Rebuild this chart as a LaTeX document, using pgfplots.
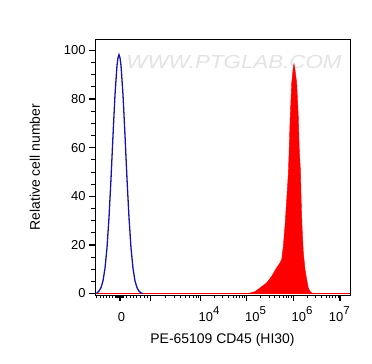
\documentclass[border=0pt]{standalone}
\usepackage{pgfplots}
\pgfplotsset{compat=1.18}
\usepackage{fontspec}
\setmainfont{Liberation Sans}
\definecolor{cblue}{RGB}{20,20,170}
\newcommand\ep[1]{10\raisebox{0.55em}{\fontsize{11.5}{11.5}\selectfont #1}}
\begin{document}
\begin{tikzpicture}
\path[use as bounding box] (-95bp,-69bp) rectangle (277bp,295bp);
\begin{axis}[
  at={(0,0)}, anchor=south west,
  scale only axis, width=255bp, height=255.7bp,
  xmin=-25, xmax=230, ymin=-0.6, ymax=104.5,
  axis line style={line width=0.8bp},
  tick pos=left, tick align=outside,
  xtick={0,30.7,80.7,126.7,173.3,220},
  xticklabels={,,,,,},
  minor xtick={-24,-20,-16.7,-13.3,-10.5,-7.5,-5,-4,-3,-2,-1,1,2,3,6.7,10,13.3,16.7,20,24,27.5,
    45.75,54.56,60.8,65.6,69.6,72.95,75.85,78.4,
    94.55,102.65,108.4,112.85,116.5,119.6,122.2,124.6,
    140.73,148.93,154.75,159.27,162.96,166.08,168.78,171.17,
    187.36,195.58,201.4,205.94,209.64,212.77,215.47,217.86},
  ytick={0,20,40,60,80,100},
  minor ytick={5,10,15,25,30,35,45,50,55,65,70,75,85,90,95},
  major tick length=6bp, minor tick length=3.5bp,
  every major tick/.style={black, line width=1.3bp},
  every minor tick/.style={black, line width=0.7bp},
  extra x ticks={1.5,89,135.5,182,219.3},
  extra x tick labels={{\vphantom{\ep{7}}0},\ep{4},\ep{5},\ep{6},\ep{7}},
  extra x tick style={major tick length=0pt, xticklabel style={yshift=-8bp}},
  /pgf/number format/assume math mode=true,
  ticklabel style={font=\fontsize{13}{13}\selectfont},
  xlabel={PE-65109 CD45 (HI30)},
  ylabel={Relative cell number},
  every axis x label/.style={at={(axis description cs:0.5,0)}, anchor=center, yshift=-45bp, font=\fontsize{14}{14}\selectfont},
  every axis y label/.style={at={(axis description cs:0,0.5)}, anchor=center, xshift=-60bp, rotate=90, font=\fontsize{14}{14}\selectfont},
  clip=true,
]
\node[font=\fontsize{19}{19}\selectfont\itshape, text=gray!22, xscale=1.18] at (axis cs:114,95.3) {WWW.PTGLAB.COM};
\addplot[red, line width=0.5bp] coordinates {(-25,0) (230,0)};
\addplot[draw=red, fill=red, line width=0.4bp] coordinates {
(128,0) (130,0.2) (135,0.8) (140,2.3) (146.7,4.4) (151.7,7.1) (156.7,10.6) (160,12.6) (161.7,14.0)
(163.3,19.4) (165,27.6) (166.7,38.6) (168.3,49) (169,57) (170,70) (171,80) (171.7,86.5) (173,92) (174,94.5)
(175,92) (176.7,86.5) (178.3,72.8) (179.3,59.1) (180.5,50) (181.2,38) (182,28) (183.3,17) (185,10)
(186.7,5.7) (188.3,2.3) (190,0.9) (191.7,0.3) (193,0)} \closedcycle;
\addplot[cblue, line width=1.3bp] coordinates {
(-25,0) (-23,0.2) (-21,1.0) (-19,2.4) (-17,5.2) (-15,10.4) (-13,18.8) (-11,31.2) (-9,47.1) (-7,65.0)
(-5,81.7) (-3,93.8) (-2,96.9) (-1,98.2) (0,96.9) (1,93.8) (3,81.7) (5,65.0) (7,47.1) (9,31.2) (11,18.8)
(13,10.4) (15,5.2) (17,2.4) (19,1.0) (21,0.2) (23,0)};
\end{axis}
\end{tikzpicture}
\end{document}
